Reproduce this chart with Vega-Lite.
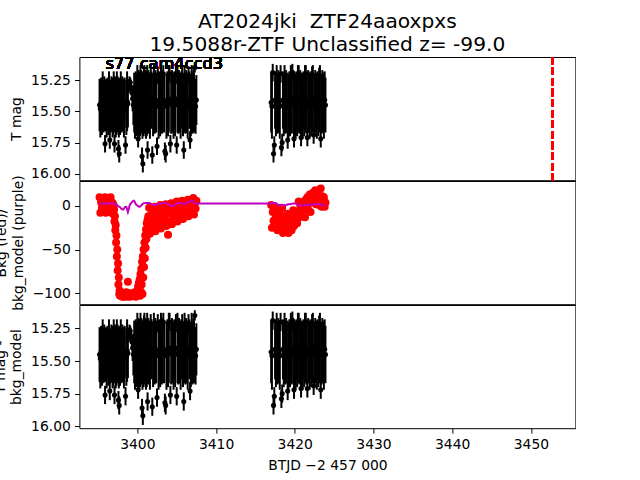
{
"$schema": "https://vega.github.io/schema/vega-lite/v6.json",
"background": "white",
"padding": {"left": -7.6, "top": 11, "right": 0, "bottom": 0},
"title": {"text": ["AT2024jki\u00a0 ZTF24aaoxpxs", "19.5088r-ZTF Unclassified z= -99.0"], "fontSize": 20.2, "lineHeight": 23.5, "fontWeight": "normal", "font": "DejaVu Sans", "color": "black", "anchor": "middle", "frame": "group", "offset": 0},
"datasets": {"lc": [
{"t":3395.2,"m":15.45,"e":0.21,"b":10,"bm":2.5},
{"t":3395.3,"m":15.48,"e":0.23,"b":-8,"bm":2.6},
{"t":3395.4,"m":15.43,"e":0.2,"b":4,"bm":2.7},
{"t":3395.5,"m":15.47,"e":0.22,"b":-2,"bm":2.8},
{"t":3395.6,"m":15.42,"e":0.24,"b":7,"bm":2.6},
{"t":3395.7,"m":15.46,"e":0.21,"b":-5,"bm":2.4},
{"t":3395.8,"m":15.44,"e":0.22,"b":1,"bm":2.5},
{"t":3395.9,"m":15.76,"e":0.07,"b":10,"bm":2.7},
{"t":3396.0,"m":15.45,"e":0.21,"b":-8,"bm":2.9},
{"t":3396.1,"m":15.48,"e":0.23,"b":4,"bm":2.8},
{"t":3396.2,"m":15.43,"e":0.2,"b":-2,"bm":2.6},
{"t":3396.3,"m":15.47,"e":0.22,"b":7,"bm":2.5},
{"t":3396.4,"m":15.42,"e":0.24,"b":-5,"bm":2.7},
{"t":3396.5,"m":15.73,"e":0.07,"b":1,"bm":2.8},
{"t":3396.6,"m":15.46,"e":0.21,"b":10,"bm":2.9},
{"t":3396.7,"m":15.44,"e":0.22,"b":-8,"bm":2.7},
{"t":3396.8,"m":15.45,"e":0.21,"b":4,"bm":2.6},
{"t":3396.85,"m":15.48,"e":0.23,"b":-3,"bm":2.6},
{"t":3396.9,"m":15.43,"e":0.2,"b":-7,"bm":2.7},
{"t":3396.95,"m":15.47,"e":0.22,"b":2,"bm":2.8},
{"t":3397.0,"m":15.42,"e":0.24,"b":-10,"bm":2.8},
{"t":3397.05,"m":15.46,"e":0.21,"b":-4,"bm":2.7},
{"t":3397.1,"m":15.76,"e":0.07,"b":-18,"bm":2.7},
{"t":3397.15,"m":15.44,"e":0.22,"b":-12,"bm":2.6},
{"t":3397.2,"m":15.45,"e":0.21,"b":-28,"bm":2.5},
{"t":3397.25,"m":15.48,"e":0.23,"b":-22,"bm":2.3},
{"t":3397.3,"m":15.43,"e":0.2,"b":-42,"bm":2.0},
{"t":3397.35,"m":15.47,"e":0.22,"b":-34,"bm":1.6},
{"t":3397.4,"m":15.42,"e":0.24,"b":-58,"bm":1.2},
{"t":3397.45,"m":15.46,"e":0.21,"b":-50,"bm":0.8},
{"t":3397.5,"m":15.44,"e":0.22,"b":-74,"bm":0.3},
{"t":3397.55,"m":15.45,"e":0.21,"b":-66,"bm":-0.2},
{"t":3397.6,"m":15.8,"e":0.07,"b":-90,"bm":-0.6},
{"t":3397.65,"m":15.48,"e":0.23,"b":-82,"bm":-0.9},
{"t":3397.7,"m":15.84,"e":0.07,"b":-101,"bm":-1.0},
{"t":3397.75,"m":15.43,"e":0.2,"b":-97,"bm":-1.2},
{"t":3397.8,"m":15.47,"e":0.22,"b":-103,"bm":-1.5},
{"t":3397.9,"m":15.42,"e":0.24,"b":-102,"bm":-2.5},
{"t":3398.0,"m":15.46,"e":0.21,"b":-100,"bm":-3.5},
{"t":3398.1,"m":15.44,"e":0.22,"b":-104,"bm":-4.0},
{"t":3398.2,"m":15.45,"e":0.21,"b":-101,"bm":-4.2},
{"t":3398.3,"m":15.48,"e":0.23,"b":-104,"bm":-3.0},
{"t":3398.4,"m":15.43,"e":0.2,"b":-100,"bm":-1.5},
{"t":3398.5,"m":15.77,"e":0.07,"b":-103,"bm":-1.0},
{"t":3398.6,"m":15.47,"e":0.22,"b":-99,"bm":-1.2},
{"t":3398.7,"m":15.42,"e":0.24,"b":-104,"bm":-4.0},
{"t":3398.8,"m":15.44,"e":0.19,"b":-87,"bm":-7.0},
{"t":3398.9,"m":15.3,"e":0.05,"b":-102,"bm":-4.0},
{"t":3399.0,"m":15.26,"e":0.04,"b":-100,"bm":0.0},
{"t":3399.1,"m":15.27,"e":0.04,"b":-104,"bm":2.0},
{"t":3399.2,"m":15.32,"e":0.05,"b":-101,"bm":3.0},
{"t":3399.3,"m":15.35,"e":0.06,"b":-103,"bm":4.0},
{"t":3399.4,"m":15.4,"e":0.1,"b":-100,"bm":5.0},
{"t":3399.5,"m":15.45,"e":0.16,"b":-101,"bm":6.0},
{"t":3399.6,"m":15.43,"e":0.24,"b":-103,"bm":6.0},
{"t":3399.7,"m":15.46,"e":0.26,"b":-99,"bm":4.0},
{"t":3399.8,"m":15.41,"e":0.23,"b":-104,"bm":2.0},
{"t":3399.9,"m":15.45,"e":0.25,"b":-100,"bm":1.0},
{"t":3400.0,"m":15.4,"e":0.27,"b":-97,"bm":0.5},
{"t":3400.05,"m":15.44,"e":0.24,"b":-103,"bm":0.0},
{"t":3400.1,"m":15.72,"e":0.07,"b":-92,"bm":-0.3},
{"t":3400.15,"m":15.42,"e":0.25,"b":-102,"bm":-0.6},
{"t":3400.2,"m":15.43,"e":0.24,"b":-88,"bm":-0.8},
{"t":3400.25,"m":15.46,"e":0.26,"b":-100,"bm":-1.0},
{"t":3400.3,"m":15.41,"e":0.23,"b":-84,"bm":-1.0},
{"t":3400.35,"m":15.45,"e":0.25,"b":-103,"bm":-0.8},
{"t":3400.4,"m":15.4,"e":0.27,"b":-78,"bm":-0.5},
{"t":3400.45,"m":15.44,"e":0.24,"b":-98,"bm":0.0},
{"t":3400.5,"m":15.42,"e":0.25,"b":-72,"bm":0.5},
{"t":3400.55,"m":15.43,"e":0.24,"b":-90,"bm":1.0},
{"t":3400.6,"m":15.86,"e":0.07,"b":-64,"bm":1.5},
{"t":3400.65,"m":15.46,"e":0.26,"b":-101,"bm":2.0},
{"t":3400.7,"m":15.92,"e":0.07,"b":-58,"bm":2.4},
{"t":3400.75,"m":15.41,"e":0.23,"b":-82,"bm":2.7},
{"t":3400.8,"m":15.45,"e":0.25,"b":-50,"bm":3.0},
{"t":3400.85,"m":15.22,"e":0.07,"b":-70,"bm":3.0},
{"t":3400.9,"m":15.4,"e":0.27,"b":-42,"bm":3.0},
{"t":3400.95,"m":15.44,"e":0.24,"b":-60,"bm":3.1},
{"t":3401.0,"m":15.42,"e":0.25,"b":-34,"bm":3.2},
{"t":3401.05,"m":15.43,"e":0.24,"b":-48,"bm":3.3},
{"t":3401.1,"m":15.46,"e":0.26,"b":-27,"bm":3.3},
{"t":3401.15,"m":15.41,"e":0.23,"b":-38,"bm":3.3},
{"t":3401.2,"m":15.45,"e":0.25,"b":-20,"bm":3.3},
{"t":3401.25,"m":15.4,"e":0.27,"b":-28,"bm":3.3},
{"t":3401.3,"m":15.81,"e":0.07,"b":-16,"bm":3.3},
{"t":3401.35,"m":15.44,"e":0.24,"b":-22,"bm":3.2},
{"t":3401.4,"m":15.42,"e":0.25,"b":-12,"bm":3.2},
{"t":3401.5,"m":15.43,"e":0.24,"b":-2,"bm":3.2},
{"t":3401.6,"m":15.46,"e":0.26,"b":-32,"bm":3.0},
{"t":3401.7,"m":15.21,"e":0.07,"b":-11,"bm":2.6},
{"t":3401.8,"m":15.41,"e":0.23,"b":-21,"bm":2.2},
{"t":3401.9,"m":15.85,"e":0.07,"b":-6,"bm":1.8},
{"t":3402.0,"m":15.45,"e":0.25,"b":-25,"bm":1.4},
{"t":3402.1,"m":15.4,"e":0.27,"b":-15,"bm":1.1},
{"t":3402.2,"m":15.44,"e":0.24,"b":-1,"bm":1.0},
{"t":3402.3,"m":15.42,"e":0.25,"b":-29,"bm":1.3},
{"t":3402.4,"m":15.43,"e":0.24,"b":-9,"bm":1.7},
{"t":3402.5,"m":15.78,"e":0.07,"b":-19,"bm":2.0},
{"t":3402.6,"m":15.21,"e":0.07,"b":-4,"bm":2.3},
{"t":3402.7,"m":15.46,"e":0.26,"b":-23,"bm":2.5},
{"t":3402.8,"m":15.41,"e":0.23,"b":-13,"bm":2.6},
{"t":3402.9,"m":15.45,"e":0.25,"b":1,"bm":2.7},
{"t":3403.0,"m":15.4,"e":0.27,"b":-26,"bm":2.7},
{"t":3403.1,"m":15.44,"e":0.24,"b":-8,"bm":2.7},
{"t":3403.2,"m":15.42,"e":0.25,"b":-17,"bm":2.9},
{"t":3403.3,"m":15.2,"e":0.07,"b":-2,"bm":3.1},
{"t":3403.4,"m":15.43,"e":0.24,"b":-21,"bm":3.2},
{"t":3403.5,"m":15.82,"e":0.07,"b":-11,"bm":3.3},
{"t":3403.6,"m":15.84,"e":0.07,"b":2,"bm":3.3},
{"t":3403.7,"m":15.46,"e":0.26,"b":-23,"bm":3.3},
{"t":3403.8,"m":15.41,"e":0.23,"b":-6,"bm":2.8},
{"t":3403.9,"m":15.45,"e":0.25,"b":-33,"bm":2.0},
{"t":3404.0,"m":15.4,"e":0.27,"b":-1,"bm":1.3},
{"t":3404.1,"m":15.2,"e":0.07,"b":-18,"bm":0.7},
{"t":3404.2,"m":15.76,"e":0.07,"b":-9,"bm":0.3},
{"t":3404.3,"m":15.44,"e":0.24,"b":3,"bm":0.1},
{"t":3404.4,"m":15.42,"e":0.25,"b":-21,"bm":0.0},
{"t":3404.5,"m":15.43,"e":0.24,"b":-4,"bm":0.0},
{"t":3404.6,"m":15.46,"e":0.26,"b":-12,"bm":0.0},
{"t":3404.7,"m":15.41,"e":0.23,"b":1,"bm":0.5},
{"t":3404.8,"m":15.45,"e":0.25,"b":-16,"bm":1.2},
{"t":3404.9,"m":15.21,"e":0.07,"b":-7,"bm":2.0},
{"t":3405.0,"m":15.77,"e":0.07,"b":5,"bm":2.6},
{"t":3405.1,"m":15.4,"e":0.27,"b":-18,"bm":3.0},
{"t":3405.2,"m":15.44,"e":0.24,"b":-2,"bm":3.3},
{"t":3405.3,"m":15.42,"e":0.25,"b":-10,"bm":3.2},
{"t":3405.4,"m":15.43,"e":0.24,"b":3,"bm":3.0},
{"t":3405.5,"m":15.46,"e":0.26,"b":-13,"bm":2.9},
{"t":3405.6,"m":15.41,"e":0.23,"b":-5,"bm":2.8},
{"t":3405.7,"m":15.21,"e":0.07,"b":6,"bm":2.7},
{"t":3405.8,"m":15.45,"e":0.25,"b":-15,"bm":2.7},
{"t":3405.9,"m":15.81,"e":0.07,"b":0,"bm":2.7},
{"t":3406.0,"m":15.4,"e":0.27,"b":-8,"bm":2.7},
{"t":3406.1,"m":15.44,"e":0.24,"b":4,"bm":2.7},
{"t":3406.2,"m":15.42,"e":0.25,"b":-11,"bm":3.0},
{"t":3406.3,"m":15.43,"e":0.24,"b":-3,"bm":3.4},
{"t":3406.4,"m":15.46,"e":0.26,"b":7,"bm":3.9},
{"t":3406.5,"m":15.21,"e":0.07,"b":-12,"bm":4.4},
{"t":3406.6,"m":15.41,"e":0.23,"b":1,"bm":5.0},
{"t":3406.7,"m":15.73,"e":0.07,"b":-5,"bm":5.5},
{"t":3406.8,"m":15.45,"e":0.25,"b":6,"bm":5.8},
{"t":3406.9,"m":15.4,"e":0.27,"b":-8,"bm":6.0},
{"t":3407.0,"m":15.44,"e":0.24,"b":-1,"bm":5.5},
{"t":3407.1,"m":15.42,"e":0.25,"b":9,"bm":4.6},
{"t":3407.2,"m":15.43,"e":0.24,"b":-10,"bm":3.8},
{"t":3407.3,"m":15.15,"e":0.04,"b":3,"bm":3.3},
{"t":3407.4,"m":15.46,"e":0.22,"b":-3,"bm":3.0},
{"t":3407.5,"m":15.41,"e":0.2,"b":6,"bm":2.8},
{"t":3417.0,"m":15.43,"e":0.24,"b":1,"bm":2.7},
{"t":3417.1,"m":15.46,"e":0.26,"b":-25,"bm":2.9},
{"t":3417.2,"m":15.19,"e":0.07,"b":-7,"bm":3.1},
{"t":3417.3,"m":15.84,"e":0.07,"b":-17,"bm":3.3},
{"t":3417.4,"m":15.77,"e":0.07,"b":-3,"bm":3.3},
{"t":3417.5,"m":15.41,"e":0.23,"b":-21,"bm":3.3},
{"t":3417.6,"m":15.45,"e":0.25,"b":-12,"bm":3.0},
{"t":3417.7,"m":15.4,"e":0.27,"b":-2,"bm":2.5},
{"t":3417.8,"m":15.44,"e":0.24,"b":-28,"bm":2.0},
{"t":3417.9,"m":15.42,"e":0.25,"b":-10,"bm":1.5},
{"t":3418.0,"m":15.43,"e":0.24,"b":-20,"bm":1.1},
{"t":3418.1,"m":15.46,"e":0.26,"b":-6,"bm":0.8},
{"t":3418.2,"m":15.2,"e":0.07,"b":-24,"bm":0.8},
{"t":3418.3,"m":15.79,"e":0.07,"b":-15,"bm":0.8},
{"t":3418.4,"m":15.75,"e":0.07,"b":-2,"bm":0.8},
{"t":3418.5,"m":15.41,"e":0.23,"b":-31,"bm":0.8},
{"t":3418.6,"m":15.45,"e":0.25,"b":-16,"bm":0.8},
{"t":3418.7,"m":15.4,"e":0.27,"b":-24,"bm":0.8},
{"t":3418.8,"m":15.44,"e":0.24,"b":-12,"bm":0.8},
{"t":3418.9,"m":15.42,"e":0.25,"b":-28,"bm":1.0},
{"t":3419.0,"m":15.43,"e":0.24,"b":-20,"bm":1.3},
{"t":3419.1,"m":15.73,"e":0.07,"b":-9,"bm":1.6},
{"t":3419.2,"m":15.46,"e":0.26,"b":-31,"bm":1.9},
{"t":3419.3,"m":15.41,"e":0.23,"b":-16,"bm":1.9},
{"t":3419.4,"m":15.45,"e":0.25,"b":-24,"bm":1.9},
{"t":3419.5,"m":15.4,"e":0.27,"b":-12,"bm":2.1},
{"t":3419.6,"m":15.44,"e":0.24,"b":-28,"bm":2.3},
{"t":3419.7,"m":15.19,"e":0.07,"b":-14,"bm":2.5},
{"t":3419.8,"m":15.42,"e":0.25,"b":-5,"bm":2.7},
{"t":3419.9,"m":15.72,"e":0.07,"b":-23,"bm":2.7},
{"t":3420.0,"m":15.43,"e":0.24,"b":-11,"bm":2.7},
{"t":3420.1,"m":15.46,"e":0.26,"b":-17,"bm":2.7},
{"t":3420.2,"m":15.41,"e":0.23,"b":-7,"bm":2.3},
{"t":3420.3,"m":15.45,"e":0.25,"b":-20,"bm":1.7},
{"t":3420.4,"m":15.4,"e":0.27,"b":-14,"bm":1.2},
{"t":3420.5,"m":15.2,"e":0.07,"b":5,"bm":0.8},
{"t":3420.6,"m":15.44,"e":0.24,"b":-13,"bm":0.8},
{"t":3420.7,"m":15.42,"e":0.25,"b":-1,"bm":0.8},
{"t":3420.8,"m":15.71,"e":0.07,"b":-7,"bm":0.8},
{"t":3420.9,"m":15.43,"e":0.24,"b":3,"bm":0.8},
{"t":3421.0,"m":15.46,"e":0.26,"b":-11,"bm":0.8},
{"t":3421.1,"m":15.41,"e":0.23,"b":-4,"bm":0.8},
{"t":3421.2,"m":15.45,"e":0.25,"b":5,"bm":0.8},
{"t":3421.3,"m":15.4,"e":0.27,"b":-13,"bm":0.8},
{"t":3421.4,"m":15.2,"e":0.07,"b":7,"bm":0.9},
{"t":3421.5,"m":15.44,"e":0.24,"b":-1,"bm":1.0},
{"t":3421.6,"m":15.71,"e":0.07,"b":10,"bm":1.2},
{"t":3421.7,"m":15.42,"e":0.25,"b":-4,"bm":1.3},
{"t":3421.8,"m":15.43,"e":0.24,"b":3,"bm":1.4},
{"t":3421.9,"m":15.46,"e":0.26,"b":13,"bm":1.5},
{"t":3422.0,"m":15.41,"e":0.23,"b":-7,"bm":1.5},
{"t":3422.1,"m":15.45,"e":0.25,"b":7,"bm":1.5},
{"t":3422.2,"m":15.21,"e":0.07,"b":7,"bm":1.5},
{"t":3422.3,"m":15.4,"e":0.27,"b":15,"bm":1.5},
{"t":3422.4,"m":15.69,"e":0.07,"b":4,"bm":1.6},
{"t":3422.5,"m":15.44,"e":0.24,"b":10,"bm":1.7},
{"t":3422.6,"m":15.42,"e":0.25,"b":18,"bm":1.8},
{"t":3422.7,"m":15.43,"e":0.24,"b":2,"bm":1.9},
{"t":3422.8,"m":15.46,"e":0.26,"b":13,"bm":1.9},
{"t":3422.9,"m":15.41,"e":0.23,"b":5,"bm":1.9},
{"t":3423.0,"m":15.45,"e":0.25,"b":15,"bm":1.9},
{"t":3423.1,"m":15.22,"e":0.07,"b":1,"bm":1.9},
{"t":3423.2,"m":15.4,"e":0.27,"b":8,"bm":1.9},
{"t":3423.3,"m":15.72,"e":0.07,"b":20,"bm":1.7},
{"t":3423.4,"m":15.44,"e":0.24,"b":-1,"bm":1.5},
{"t":3423.5,"m":15.42,"e":0.25,"b":11,"bm":1.2},
{"t":3423.6,"m":15.43,"e":0.24,"b":1,"bm":0.9},
{"t":3423.7,"m":15.46,"e":0.26,"b":10,"bm":0.6},
{"t":3423.8,"m":15.41,"e":0.23,"b":-1,"bm":0.2},
{"t":3423.9,"m":15.45,"e":0.22,"b":4,"bm":-0.2}
]},
"spacing": 0,
"bounds": "flush",
"vconcat": [
{
"width": 496, "height": 123.2,
"data": {"name": "lc"},
"layer": [
{"mark": {"type": "errorbar", "color": "black", "thickness": 2},
 "encoding": {
  "x": {"field": "t", "type": "quantitative", "scale": {"domain": [3392.64, 3455.65], "nice": false, "zero": false}, "axis": null},
  "y": {"field": "m", "type": "quantitative", "title": "T mag", "scale": {"domain": [15.065, 16.052], "reverse": true, "nice": false, "zero": false}, "axis": {"values": [15.25, 15.5, 15.75, 16.0], "format": ".2f", "title": "T mag"}},
  "yError": {"field": "e"}}},
{"mark": {"type": "circle", "color": "black", "size": 26, "opacity": 1},
 "encoding": {
  "x": {"field": "t", "type": "quantitative"},
  "y": {"field": "m", "type": "quantitative", "title": "T mag"}}},
{"mark": {"type": "rule", "color": "red", "strokeDash": [7.4, 3.2], "strokeWidth": 2},
 "encoding": {"x": {"datum": 3452.7}}},
{"mark": {"type": "text", "align": "left", "baseline": "alphabetic", "fontSize": 16.2, "font": "DejaVu Sans", "color": "black"},
 "encoding": {"x": {"datum": 3395.96}, "y": {"datum": 15.164}, "text": {"value": "s77 cam4ccd3"}}}
]
},
{
"width": 496, "height": 123.2,
"data": {"name": "lc"},
"layer": [
{"mark": {"type": "circle", "color": "#ff0000", "size": 64, "opacity": 1},
 "encoding": {
  "x": {"field": "t", "type": "quantitative", "scale": {"domain": [3392.64, 3455.65], "nice": false, "zero": false}, "axis": null},
  "y": {"field": "b", "type": "quantitative", "title": ["Bkg (red)/", "bkg_model (purple)"], "scale": {"domain": [-112.6, 28.5], "nice": false, "zero": false}, "axis": {"values": [0, -50, -100], "format": "d", "title": ["Bkg (red)/", "bkg_model (purple)"]}}}},
{"mark": {"type": "line", "color": "#bf00bf", "strokeWidth": 2},
 "encoding": {
  "x": {"field": "t", "type": "quantitative"},
  "y": {"field": "bm", "type": "quantitative", "title": ["Bkg (red)/", "bkg_model (purple)"]}}}
]
},
{
"width": 496, "height": 123.2,
"data": {"name": "lc"},
"layer": [
{"mark": {"type": "errorbar", "color": "black", "thickness": 2},
 "encoding": {
  "x": {"field": "t", "type": "quantitative", "title": "BTJD −2 457 000", "scale": {"domain": [3392.64, 3455.65], "nice": false, "zero": false}, "axis": {"values": [3400, 3410, 3420, 3430, 3440, 3450], "format": "d", "title": "BTJD −2 457 000"}},
  "y": {"field": "m", "type": "quantitative", "title": ["T mag -", "bkg_model"], "scale": {"domain": [15.07, 16.015], "reverse": true, "nice": false, "zero": false}, "axis": {"values": [15.25, 15.5, 15.75, 16.0], "format": ".2f", "title": ["T mag -", "bkg_model"]}},
  "yError": {"field": "e"}}},
{"mark": {"type": "circle", "color": "black", "size": 26, "opacity": 1},
 "encoding": {
  "x": {"field": "t", "type": "quantitative", "title": "BTJD −2 457 000"},
  "y": {"field": "m", "type": "quantitative", "title": ["T mag -", "bkg_model"]}}}
]
}
],
"config": {
 "view": {"stroke": "black", "strokeWidth": 1},
 "font": "DejaVu Sans",
 "axis": {"labelFont": "DejaVu Sans", "labelFontSize": 13.9, "labelColor": "black", "titleFont": "DejaVu Sans", "titleFontSize": 13.9, "titleFontWeight": "normal", "titleColor": "black", "titleLineHeight": 16.5, "tickColor": "black", "tickSize": 4.9, "tickWidth": 1, "labelPadding": 4.2, "domain": false, "grid": false, "labelFlush": false, "labelOverlap": false},
 "axisY": {"titlePadding": 7},
 "axisX": {"titlePadding": 7.5}
}
}
